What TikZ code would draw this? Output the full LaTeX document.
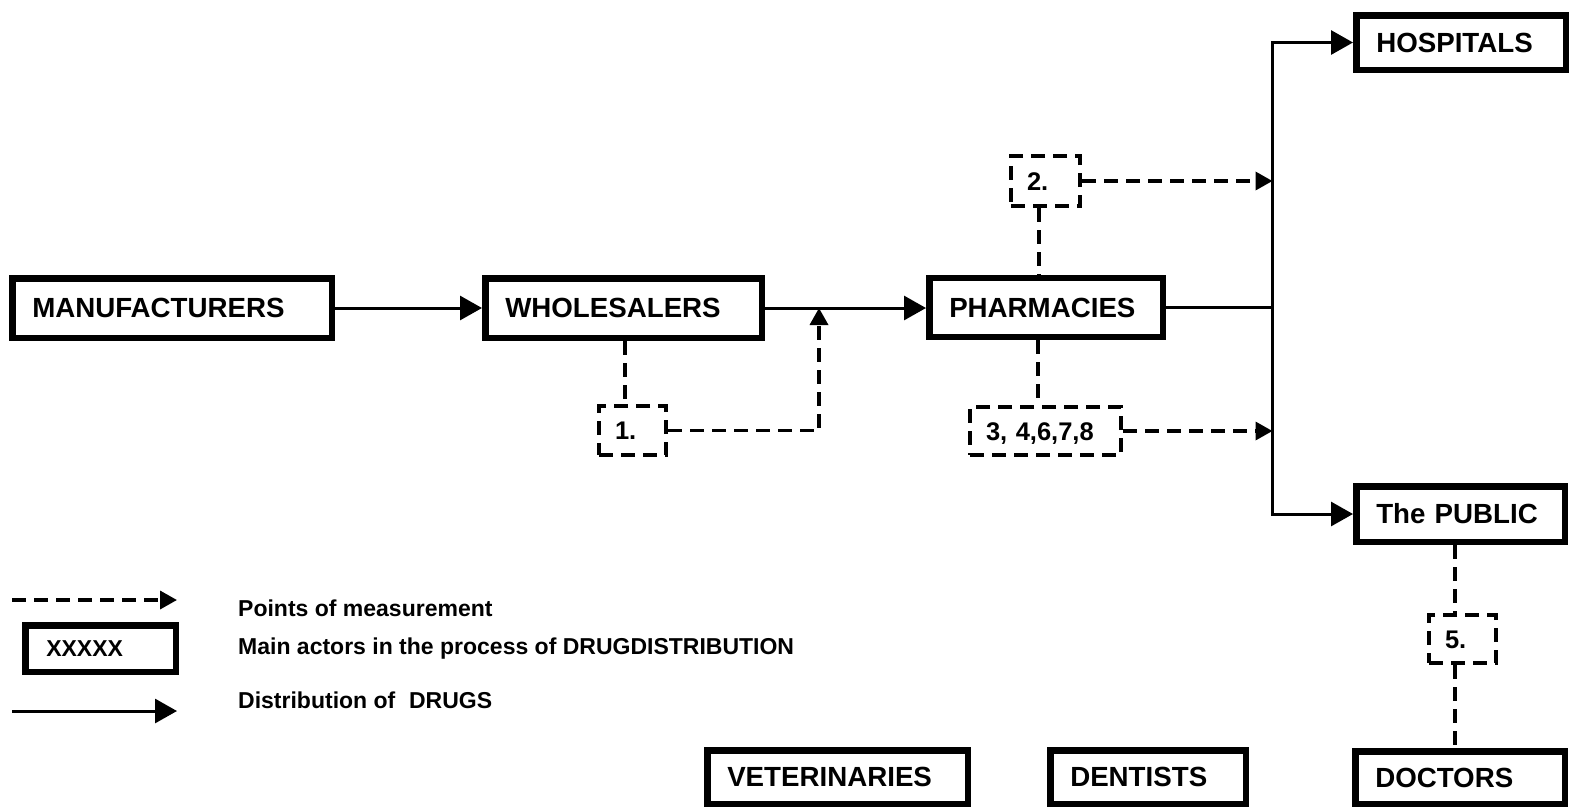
\documentclass[tikz,border=0pt]{standalone}
\usepackage{fontspec}
\setmainfont{Liberation Sans}
\usetikzlibrary{arrows.meta,calc}
\begin{document}
\begin{tikzpicture}[x=1pt,y=-1pt,
  actor/.style={draw, line width=6.5pt, rectangle, inner xsep=20pt, inner ysep=0pt, align=left,
    font=\fontsize{27.7}{30}\selectfont\bfseries, text height=19.8pt, text depth=0pt},
  point/.style={draw, line width=4pt, dash pattern=on 14pt off 8pt, rectangle, inner xsep=16pt,
    inner ysep=0pt, align=left, font=\fontsize{25.5}{28}\selectfont\bfseries, text height=18.3pt, text depth=0pt},
  flow/.style={line width=3pt},
  meas/.style={line width=3.5pt, dash pattern=on 14pt off 8pt},
  tipA/.style={-{Triangle[length=22pt,width=24pt]}},
  tipB/.style={-{Triangle[length=17pt,width=18pt]}},
  legtext/.style={anchor=base west, font=\fontsize{23}{26}\selectfont\bfseries, inner sep=0pt}
]
\useasboundingbox (0,0) rectangle (1581,807);

% main actors
\node[actor, text width=279.5pt, minimum height=59.5pt] (man) at (172,308) {MANUFACTURERS};
\node[actor, text width=236.5pt, minimum height=59.5pt] (who) at (623.5,308) {WHOLESALERS};
\node[actor, text width=193.5pt, minimum height=59pt] (pha) at (1046,307.5) {PHARMACIES};
\node[actor, text width=169.5pt, minimum height=54.5pt] (hos) at (1461,42.5) {HOSPITALS};
\node[actor, text width=168.5pt, minimum height=55.5pt] (pub) at (1460.5,514) {The PUBLIC};
\node[actor, text width=169.5pt, minimum height=52.5pt] (doc) at (1460,777.5) {DOCTORS};
\node[actor, text width=220.5pt, minimum height=53.5pt] (vet) at (837.5,777) {VETERINARIES};
\node[actor, text width=155.5pt, minimum height=53.5pt] (den) at (1148,777) {DENTISTS};

% points of measurement
\node[point, text width=35pt, minimum height=49pt] (p1) at (632.5,430.5) {1.};
\node[point, text width=37pt, minimum height=50pt] (p2) at (1045.5,181) {2.};
\node[point, text width=119pt, minimum height=48pt] (p3) at (1045.5,431) {3, 4,6,7,8};
\node[point, text width=35pt, minimum height=48pt] (p5) at (1462.5,639) {5.};

% helper coordinates
\coordinate (x1) at (625,0);
\coordinate (x2) at (1039,0);
\coordinate (x3) at (1038,0);
\coordinate (x5) at (1455,0);
\coordinate (j1) at (819,308);
\coordinate (trunk) at (1272.5,0);

% distribution of drugs
\draw[flow,tipA] (man.east) -- (who.west);
\draw[flow,tipA] (who.east) -- (who.east -| pha.west);
\draw[flow] (pha.east) -- (pha.east -| trunk) coordinate (tr);
\draw[flow,tipA] (tr) |- (hos.west);
\draw[flow,tipA] (tr) |- (pub.west);

% measurement links
\draw[meas] (who.south -| x1) -- (p1.north -| x1);
\draw[meas,tipB] (p1.east) -| (j1);
\draw[meas] (p2.south -| x2) -- (pha.north -| x2);
\draw[meas,tipB] (p2.east) -- (p2.east -| trunk);
\draw[meas] (pha.south -| x3) -- (p3.north -| x3);
\draw[meas,tipB] (p3.east) -- (p3.east -| trunk);
\draw[meas] (pub.south -| x5) -- (p5.north -| x5);
\draw[meas] (p5.south -| x5) -- (doc.north -| x5);

% legend
\coordinate (la1) at (12,600);
\coordinate (la2) at (177,600);
\draw[meas,tipB] (la1) -- (la2);
\node[actor, text width=108.5pt, inner xsep=21pt, minimum height=46.5pt,
  font=\fontsize{23}{26}\selectfont\bfseries, text height=16.5pt] (leg) at (100.5,648.5) {XXXXX};
\coordinate (lb1) at (12,711);
\coordinate (lb2) at (177,711);
\draw[flow,tipA] (lb1) -- (lb2);
\node[legtext] (t1) at (238,616) {Points of measurement};
\node[legtext] (t2) at (238,654) {Main actors in the process of DRUGDISTRIBUTION};
\node[legtext] (t3) at (238,708) {Distribution of\hspace{0.6em}DRUGS};
\end{tikzpicture}
\end{document}
